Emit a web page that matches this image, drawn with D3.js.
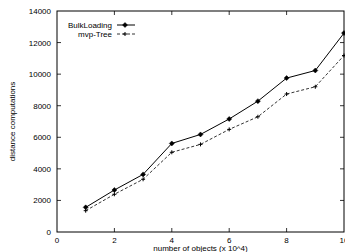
<!DOCTYPE html>
<html><head><meta charset="utf-8">
<script src="https://cdn.jsdelivr.net/npm/d3@7"></script>
<style>html,body{margin:0;padding:0;background:#fff;overflow:hidden}</style>
</head><body>
<svg id="c" width="345" height="252"></svg>
<script>
const xValues = [1,2,3,4,5,6,7,8,9,10];
const bulkLoading = [1560,2660,3650,5610,6180,7160,8290,9750,10230,12600];
const mvpTree = [1350,2390,3340,5050,5550,6500,7300,8740,9200,11180];
const xTicks = [0,2,4,6,8,10];
const yTicks = [0,2000,4000,6000,8000,10000,12000,14000];
const seriesNames = ["BulkLoading","mvp-Tree"];

const svg = d3.select("#c");
const L=57, R=344, T=11, B=232;
const x = d3.scaleLinear().domain([0,10]).range([L,R]);
const y = d3.scaleLinear().domain([0,14000]).range([B,T]);
const font = "Liberation Sans, Arial, sans-serif";
const fs = 8;

// frame
svg.append("rect").attr("x",L).attr("y",T).attr("width",R-L).attr("height",B-T)
  .attr("fill","none").attr("stroke","#000").attr("stroke-width",1);

const tl = 4;
const g = svg.append("g").attr("stroke","#000").attr("stroke-width",0.8);
xTicks.forEach(v=>{
  if(v===0||v===10) return;
  g.append("line").attr("x1",x(v)).attr("x2",x(v)).attr("y1",B).attr("y2",B-tl);
  g.append("line").attr("x1",x(v)).attr("x2",x(v)).attr("y1",T).attr("y2",T+tl);
});
yTicks.forEach(v=>{
  if(v===0||v===14000) return;
  g.append("line").attr("x1",L).attr("x2",L+tl).attr("y1",y(v)).attr("y2",y(v));
  g.append("line").attr("x1",R).attr("x2",R-tl).attr("y1",y(v)).attr("y2",y(v));
});
xTicks.forEach(v=>{
  svg.append("text").attr("x",x(v)).attr("y",B+11).attr("text-anchor","middle")
    .attr("font-family",font).attr("font-size",fs).text(v);
});
yTicks.forEach(v=>{
  svg.append("text").attr("x",L-6).attr("y",y(v)+3).attr("text-anchor","end")
    .attr("font-family",font).attr("font-size",fs).text(v);
});
svg.append("text").attr("x",(L+R)/2).attr("y",251).attr("text-anchor","middle")
  .attr("font-family",font).attr("font-size",fs).text("number of objects (x 10^4)");
svg.append("text").attr("transform",`translate(15,${(T+B)/2}) rotate(-90)`).attr("text-anchor","middle")
  .attr("font-family",font).attr("font-size",fs).text("distance computations");

const line = d3.line().x((d,i)=>x(xValues[i])).y(d=>y(d));
svg.append("path").datum(bulkLoading).attr("d",line).attr("fill","none").attr("stroke","#000").attr("stroke-width",1);
svg.append("path").datum(mvpTree).attr("d",line).attr("fill","none").attr("stroke","#000").attr("stroke-width",0.8).attr("stroke-dasharray","3,2");

function diamond(cx,cy){
  svg.append("path").attr("d",`M${cx},${cy-2.5}L${cx+2.5},${cy}L${cx},${cy+2.5}L${cx-2.5},${cy}Z`)
    .attr("fill","#000").attr("stroke","#000").attr("stroke-width",0.5);
}
function plus(cx,cy){
  svg.append("path").attr("d",`M${cx-2},${cy}H${cx+2}M${cx},${cy-2}V${cy+2}`)
    .attr("stroke","#000").attr("stroke-width",1).attr("fill","none");
}
bulkLoading.forEach((d,i)=>diamond(x(xValues[i]),y(d)));
mvpTree.forEach((d,i)=>plus(x(xValues[i]),y(d)));

// legend
const lx1=117, lx2=135, ly=[25,34];
seriesNames.forEach((n,i)=>{
  svg.append("text").attr("x",112).attr("y",ly[i]+3).attr("text-anchor","end")
    .attr("font-family",font).attr("font-size",fs).text(n);
  const l = svg.append("line").attr("x1",lx1).attr("x2",lx2).attr("y1",ly[i]).attr("y2",ly[i]).attr("stroke","#000");
  if(i===1) l.attr("stroke-dasharray","3,2").attr("stroke-width",0.8);
  if(i===0) diamond(125,ly[i]); else plus(125,ly[i]);
});
</script>
</body></html>
